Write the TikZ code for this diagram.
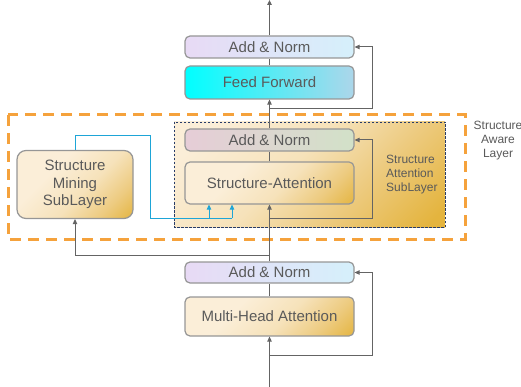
\documentclass[tikz,border=0pt]{standalone}
\usepackage{fontspec}
\setmainfont{Liberation Sans}
\usetikzlibrary{arrows.meta}
\definecolor{txt}{RGB}{90,90,90}
\definecolor{bord}{RGB}{150,150,150}
\definecolor{lnc}{RGB}{100,100,100}
\definecolor{cream}{RGB}{251,238,216}
\definecolor{peach}{RGB}{246,226,186}
\definecolor{midgold}{RGB}{237,203,128}
\definecolor{gold}{RGB}{228,180,62}
\definecolor{lav}{RGB}{232,218,245}
\definecolor{lblue}{RGB}{213,240,251}
\definecolor{cyanc}{RGB}{0,255,255}
\definecolor{ffr}{RGB}{172,214,234}
\definecolor{pinkc}{RGB}{230,205,215}
\definecolor{greenc}{RGB}{210,225,200}
\definecolor{orangec}{RGB}{245,162,60}
\definecolor{navyc}{RGB}{40,60,105}
\definecolor{bluec}{RGB}{30,165,215}
\pgfdeclarehorizontalshading{warmshade}{100bp}{color(0bp)=(cream); color(36bp)=(cream); color(56bp)=(peach); color(72bp)=(midgold); color(86bp)=(gold); color(100bp)=(gold)}
\pgfdeclarehorizontalshading{layershade}{100bp}{color(0bp)=(cream); color(22bp)=(cream); color(45bp)=(peach); color(62bp)=(midgold); color(82bp)=(gold); color(100bp)=(gold)}
\tikzset{
  box/.style={draw=bord, line width=1.2pt, rounded corners=5pt, text=txt,
    font=\fontsize{15}{17}\selectfont, inner sep=0pt, minimum width=169pt},
  normbox/.style={box, left color=lav, right color=lblue},
  warmbox/.style={box, shading=warmshade, shading angle=-45},
  line/.style={draw=lnc, line width=1pt},
  arr/.style={line, -{Triangle[length=5pt,width=4.5pt]}},
  barr/.style={draw=bluec, line width=1pt, -{Triangle[length=5pt,width=4.5pt]}},
  bline/.style={draw=bluec, line width=1pt},
  lbl/.style={text=txt, font=\fontsize{12}{14}\selectfont, inner sep=0pt},
}
\begin{document}
\begin{tikzpicture}[x=1pt,y=-1pt]
\useasboundingbox (0,0) rectangle (521,387);
% group boxes
\draw[draw=orangec, line width=3pt, dash pattern=on 11pt off 7pt] (8,115) rectangle (465,239);
\shade[shading=layershade, shading angle=-45] (174,122) rectangle (445,227);
\draw[draw=navyc, line width=0.8pt, dash pattern=on 2.5pt off 1.5pt] (174,122) rectangle (445,227);
\node[lbl, align=left, anchor=west] (sublbl) at (386,174.5) {Structure\\Attention\\SubLayer};
\node[lbl, align=center] (awarelbl) at (498,141) {Structure\\Aware\\Layer};
% nodes
\node[normbox, minimum height=22pt] (AN3) at (269.5,47) {Add \& Norm};
\node[box, minimum height=33pt, left color=cyanc, right color=ffr] (FF) at (269.5,82.5) {Feed Forward};
\node[box, minimum height=22pt, left color=pinkc, right color=greenc] (AN2) at (269.5,140) {Add \& Norm};
\node[warmbox, minimum height=42pt] (SA) at (269.5,183) {Structure-Attention};
\node[normbox, minimum height=21pt] (AN1) at (269.5,272.5) {Add \& Norm};
\node[warmbox, minimum height=39pt] (MHA) at (269.5,316.5) {Multi-Head Attention};
\node[warmbox, minimum width=116pt, minimum height=68pt, rounded corners=9pt, align=center,
  font=\fontsize{15}{17.5}\selectfont] (SM) at (75,184.5) {Structure\\Mining\\SubLayer};
% coordinates
\coordinate (in) at (269.5,387);
\coordinate (out) at (269.5,0);
\coordinate (r1) at (269.5,355);
\coordinate (b1) at (269.5,255);
\coordinate (r2) at (269.5,218);
\coordinate (r3) at (269.5,109);
\coordinate (bturn) at (150,136);
\coordinate (bj1) at (209,218);
\coordinate (bj2) at (232,218);
% main connectors
\draw[arr] (in) -- (MHA.south);
\draw[arr] (r1) -- ++(102.5,0) |- (AN1.east);
\draw[line] (MHA.north) -- (AN1.south);
\draw[arr] (AN1.north) -- (SA.south);
\draw[arr] (b1) -| (SM.south);
\draw[arr] (r2) -- ++(102.5,0) |- (AN2.east);
\draw[line] (SA.north) -- (AN2.south);
\draw[arr] (AN2.north) -- (FF.south);
\draw[arr] (r3) -- ++(102.5,0) |- (AN3.east);
\draw[line] (FF.north) -- (AN3.south);
\draw[arr] (AN3.north) -- (out);
% blue connectors
\draw[bline] (SM.north) |- (bturn) |- (bj2);
\draw[barr] (bj1) -- (bj1 |- SA.south);
\draw[barr] (bj2) -- (bj2 |- SA.south);
\end{tikzpicture}
\end{document}
